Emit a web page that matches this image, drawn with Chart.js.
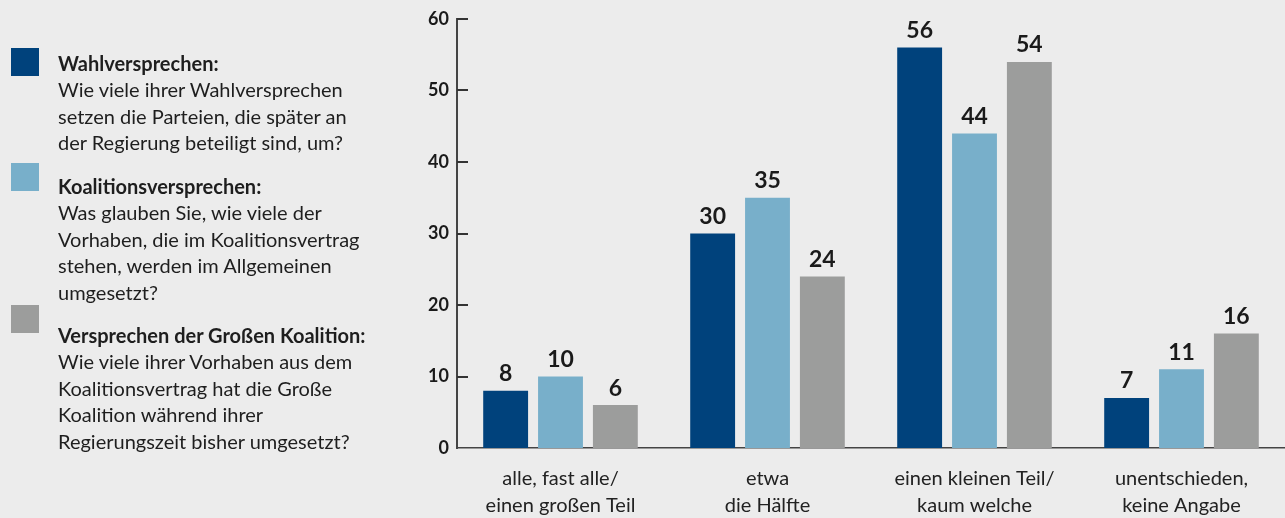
<!DOCTYPE html>
<html lang="de">
<head>
    <meta charset="UTF-8">
    <title>Wahlversprechen</title>
    <script src="https://cdn.jsdelivr.net/npm/chart.js"></script>
    <style>
        html, body {
            margin: 0;
            padding: 0;
            background: #ececec;
            font-family: Lato, "Open Sans", sans-serif;
        }
        .wrap {
            position: relative;
            width: 1285px;
            height: 518px;
            overflow: hidden;
        }
        #grafik {
            position: absolute;
            left: 0;
            top: 0;
        }
        .legende {
            position: absolute;
            left: 0;
            top: 0;
            width: 400px;
            height: 518px;
            z-index: 2;
        }
        .box {
            position: absolute;
            left: 11px;
            width: 28px;
            height: 28px;
        }
        .text {
            position: absolute;
            left: 58px;
            font-size: 20px;
            line-height: 26.4px;
            color: #1e1e1e;
            white-space: nowrap;
        }
        .text b {
            font-weight: 700;
        }
    </style>
</head>
<body>
<div class="wrap">
    <canvas id="grafik" width="1285" height="518"></canvas>
    <div class="legende" id="legende"></div>
</div>

<script>
    // Daten
    const kategorien = [
        ['alle, fast alle/', 'einen großen Teil'],
        ['etwa', 'die Hälfte'],
        ['einen kleinen Teil/', 'kaum welche'],
        ['unentschieden,', 'keine Angabe']
    ];
    const wahlversprechen = [8, 30, 56, 7];
    const koalitionsversprechen = [10, 35, 44, 11];
    const grosseKoalition = [6, 24, 54, 16];
    const yTicks = [0, 10, 20, 30, 40, 50, 60];

    const farben = ['#00427c', '#78afca', '#9c9d9c'];

    const legendeEintraege = [
        { titel: 'Wahlversprechen:', zeilen: ['Wie viele ihrer Wahlversprechen', 'setzen die Parteien, die später an', 'der Regierung beteiligt sind, um?'], box: 48, text: 50 },
        { titel: 'Koalitionsversprechen:', zeilen: ['Was glauben Sie, wie viele der', 'Vorhaben, die im Koalitionsvertrag', 'stehen, werden im Allgemeinen', 'umgesetzt?'], box: 163, text: 173 },
        { titel: 'Versprechen der Großen Koalition:', zeilen: ['Wie viele ihrer Vorhaben aus dem', 'Koalitionsvertrag hat die Große', 'Koalition während ihrer', 'Regierungszeit bisher umgesetzt?'], box: 305, text: 322 }
    ];

    // Legende links
    const legende = document.getElementById('legende');
    legendeEintraege.forEach((e, i) => {
        const box = document.createElement('div');
        box.className = 'box';
        box.style.top = e.box + 'px';
        box.style.background = farben[i];
        legende.appendChild(box);

        const txt = document.createElement('div');
        txt.className = 'text';
        txt.style.top = e.text + 'px';
        txt.innerHTML = '<b>' + e.titel + '</b><br>' + e.zeilen.join('<br>');
        legende.appendChild(txt);
    });

    // Werte über den Balken + kurze Striche an der y-Achse
    const extras = {
        id: 'extras',
        afterDatasetsDraw(chart) {
            const ctx = chart.ctx;
            ctx.save();
            ctx.font = 'bold 23px Lato';
            ctx.fillStyle = '#1a1a1a';
            ctx.textAlign = 'center';
            ctx.textBaseline = 'middle';
            chart.data.datasets.forEach((ds, i) => {
                chart.getDatasetMeta(i).data.forEach((bar, j) => {
                    ctx.fillText(ds.data[j], bar.x, bar.y - 17);
                });
            });

            const y = chart.scales.y;
            const left = chart.chartArea.left;
            ctx.strokeStyle = '#333';
            ctx.lineWidth = 2;
            yTicks.forEach(t => {
                if (t === 0) return;
                const py = Math.round(y.getPixelForValue(t));
                ctx.beginPath();
                ctx.moveTo(left, py);
                ctx.lineTo(left + 11, py);
                ctx.stroke();
            });
            ctx.restore();
        }
    };

    const datasets = [wahlversprechen, koalitionsversprechen, grosseKoalition].map((werte, i) => ({
        label: legendeEintraege[i].titel,
        data: werte,
        backgroundColor: farben[i],
        borderWidth: 0,
        categoryPercentage: 0.795,
        barPercentage: 0.818
    }));

    new Chart(document.getElementById('grafik'), {
        type: 'bar',
        data: { labels: kategorien, datasets: datasets },
        plugins: [extras],
        options: {
            responsive: false,
            animation: false,
            layout: { padding: { top: 19, right: 0, bottom: 0, left: 0 } },
            plugins: {
                legend: { display: false },
                tooltip: { enabled: false }
            },
            scales: {
                x: {
                    grid: { display: false, drawTicks: false },
                    border: { display: true, color: '#444', width: 1.5 },
                    ticks: {
                        color: '#222',
                        padding: 17,
                        maxRotation: 0,
                        autoSkip: false,
                        font: { family: 'Lato', size: 20, lineHeight: 1.35 }
                    },
                    afterFit(scale) { scale.height = 70; }
                },
                y: {
                    min: 0,
                    max: 60,
                    grid: { display: false, drawTicks: false },
                    border: { display: true, color: '#444', width: 2 },
                    afterBuildTicks(scale) { scale.ticks = yTicks.map(v => ({ value: v })); },
                    ticks: {
                        color: '#1a1a1a',
                        padding: 8,
                        font: { family: 'Lato', size: 18, weight: 'bold' }
                    },
                    afterFit(scale) { scale.width = 457; }
                }
            }
        }
    });
</script>
</body>
</html>
